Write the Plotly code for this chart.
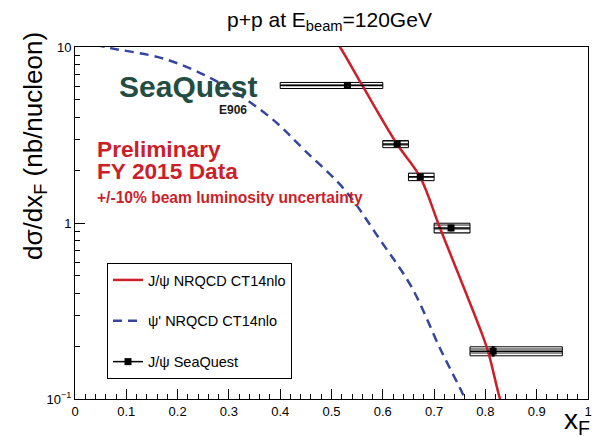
import plotly.graph_objects as go

# ---------------- data ----------------
# J/psi NRQCD CT14nlo curve
jpsi_x = [0.48, 0.5166, 0.5595, 0.6277, 0.6725, 0.7115, 0.789, 0.805, 0.8285, 0.84]
jpsi_y = [14.5, 10.0, 6.09, 2.81, 1.83, 0.937, 0.253, 0.187, 0.10, 0.08]

# psi' NRQCD CT14nlo curve
psip_x = [0.04, 0.068, 0.175, 0.280, 0.382, 0.447, 0.526, 0.595, 0.656, 0.713, 0.757, 0.766]
psip_y = [10.3, 9.87, 8.55, 6.3, 3.95, 2.60, 1.54, 0.80, 0.433, 0.190, 0.105, 0.09]

# SeaQuest J/psi data
sq_x = [0.531, 0.628, 0.673, 0.733, 0.815]
sq_y = [6.05, 2.81, 1.83, 0.937, 0.187]
sq_xlo = [0.40, 0.60, 0.65, 0.70, 0.77]
sq_xhi = [0.60, 0.65, 0.70, 0.77, 0.95]
sq_stat = [0.12, 0.08, 0.055, 0.04, 0.013]
sq_sys = [0.24, 0.13, 0.09, 0.06, 0.011]

x_ticks = [0, 0.1, 0.2, 0.3, 0.4, 0.5, 0.6, 0.7, 0.8, 0.9, 1]
x_ticklabels = ["0", "0.1", "0.2", "0.3", "0.4", "0.5", "0.6", "0.7", "0.8", "0.9", "1"]
y_ticks = [0.1, 1, 10]
y_ticklabels = ["10<sup>\u22121</sup>", "1", "10"]

# ---------------- figure ----------------
W, H = 603, 438
ML, MR, MT, MB = 75, 15, 47, 39
PW, PH = W - ML - MR, H - MT - MB


def px(x):
    return (x - ML) / PW


def py(y):
    return (H - MB - y) / PH


FONT = "Liberation Sans, Arial, Helvetica, sans-serif"
RED = "#cc1f2a"
BLUE = "#3646a0"

fig = go.Figure()

# systematic boxes
fig.add_trace(go.Bar(
    x=[(a + b) / 2 for a, b in zip(sq_xlo, sq_xhi)],
    width=[b - a for a, b in zip(sq_xlo, sq_xhi)],
    base=[y - s for y, s in zip(sq_y, sq_sys)],
    y=[2 * s for s in sq_sys],
    marker=dict(color="white", line=dict(color="black", width=1),
                pattern=dict(shape="-", fgcolor="black", bgcolor="white",
                             size=4, solidity=0.45)),
    showlegend=False, hoverinfo="skip",
))

fig.add_trace(go.Scatter(
    x=jpsi_x, y=jpsi_y, mode="lines", line=dict(color=RED, width=2.5, shape="spline"),
    name="J/\u03c8 NRQCD CT14nlo", legendgroup="a", legendrank=1,
))
fig.add_trace(go.Scatter(
    x=psip_x, y=psip_y, mode="lines",
    line=dict(color=BLUE, width=2.5, dash="9px,6px", shape="spline"),
    name="\u03c8' NRQCD CT14nlo", legendgroup="b", legendrank=2,
))

fig.add_trace(go.Scatter(
    x=sq_x, y=sq_y, mode="markers",
    marker=dict(symbol="square", size=7, color="black"),
    error_x=dict(type="data", symmetric=False,
                 array=[b - x for b, x in zip(sq_xhi, sq_x)],
                 arrayminus=[x - a for a, x in zip(sq_xlo, sq_x)],
                 width=0, thickness=1.5, color="black"),
    error_y=dict(type="data", array=sq_stat, width=0, thickness=3, color="black"),
    showlegend=False,
))
# legend entry for data (line + marker sample)
fig.add_trace(go.Scatter(
    x=[None], y=[None], mode="lines+markers",
    line=dict(color="black", width=1.5), marker=dict(symbol="square", size=7, color="black"),
    name="J/\u03c8 SeaQuest", legendgroup="c", legendrank=3,
))

minor_y = [k * 10 ** e for e in (-1, 0) for k in range(2, 10)]
minor_x = [i / 50 for i in range(51)]

fig.update_layout(
    width=W, height=H,
    margin=dict(l=ML, r=MR, t=MT, b=MB),
    paper_bgcolor="white", plot_bgcolor="white",
    font=dict(family=FONT, color="black", size=13),
    barmode="overlay",
    showlegend=True,
    legend=dict(
        x=px(107), y=py(263), xanchor="left", yanchor="top",
        bordercolor="black", borderwidth=1, bgcolor="white",
        font=dict(size=14.5, family=FONT), tracegroupgap=19,
        traceorder="grouped", itemwidth=30,
    ),
    xaxis=dict(
        range=[0, 1], tickmode="array", tickvals=x_ticks, ticktext=x_ticklabels,
        ticks="inside", ticklen=10, tickcolor="black", showgrid=False, zeroline=False,
        showline=True, linecolor="black", linewidth=1, mirror=True,
        minor=dict(tickmode="array", tickvals=minor_x, ticks="inside", ticklen=5,
                   tickcolor="black", showgrid=False),
        tickfont=dict(size=13),
    ),
    yaxis=dict(
        type="log", range=[-1, 1], tickmode="array", tickvals=y_ticks, ticktext=y_ticklabels,
        ticks="inside", ticklen=10, tickcolor="black", showgrid=False, zeroline=False,
        showline=True, linecolor="black", linewidth=1, mirror=True,
        minor=dict(tickmode="array", tickvals=minor_y, ticks="inside", ticklen=5,
                   tickcolor="black", showgrid=False),
        tickfont=dict(size=13),
    ),
)

ann = [
    dict(text="p+p at E<sub>beam</sub>=120GeV", x=px(329), y=py(21), xanchor="center",
         yanchor="middle", font=dict(size=21)),
    dict(text="x<sub>F</sub>", x=px(592), y=py(402), xanchor="right", yanchor="top",
         font=dict(size=28)),
    dict(text="d\u03c3/dx<sub>F</sub> (nb/nucleon)", x=px(34), y=py(30), xanchor="center",
         yanchor="top", textangle=-90, font=dict(size=26)),
    dict(text="<b>SeaQuest</b>", x=px(188), y=py(86), xanchor="center", yanchor="middle",
         font=dict(size=30, color="#234d43")),
    dict(text="<b>E906</b>", x=px(233), y=py(110), xanchor="center", yanchor="middle",
         font=dict(size=12, color="#1a1a1a")),
    dict(text="<b>Preliminary</b>", x=px(95), y=py(149), xanchor="left", yanchor="middle",
         font=dict(size=22.7, color=RED)),
    dict(text="<b>FY 2015 Data</b>", x=px(95), y=py(171), xanchor="left", yanchor="middle",
         font=dict(size=22.7, color=RED)),
    dict(text="<b>+/-10% beam luminosity uncertainty</b>", x=px(95), y=py(197), xanchor="left",
         yanchor="middle", font=dict(size=15.6, color=RED)),
]
for a in ann:
    a.update(xref="paper", yref="paper", showarrow=False)
fig.update_layout(annotations=ann)

fig.write_html("out.html", config={"displayModeBar": False},
               post_script="document.body.style.margin='0px';")
